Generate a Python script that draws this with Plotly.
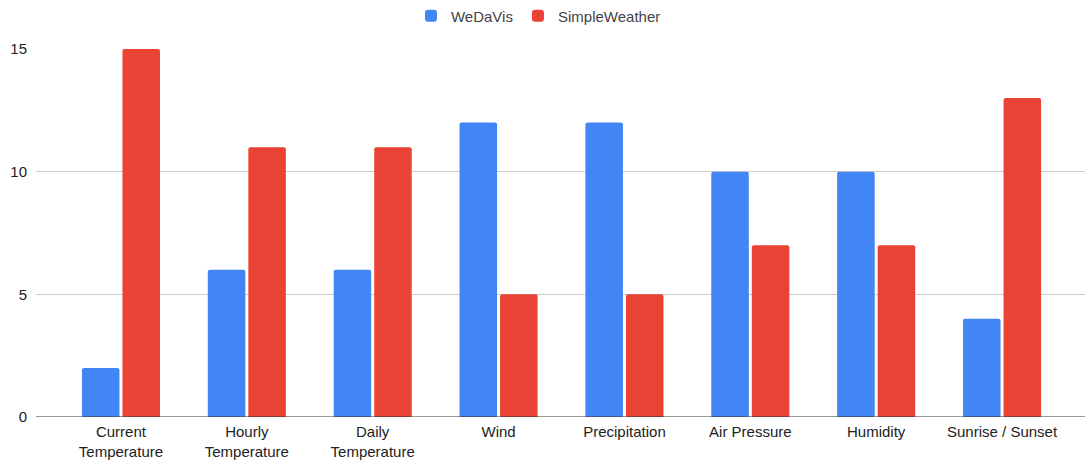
import plotly.graph_objects as go

categories = [
    "Current<br>Temperature",
    "Hourly<br>Temperature",
    "Daily<br>Temperature",
    "Wind",
    "Precipitation",
    "Air Pressure",
    "Humidity",
    "Sunrise / Sunset",
]
wedavis = [2, 6, 6, 12, 12, 10, 10, 4]
simpleweather = [15, 11, 11, 5, 5, 7, 7, 13]

BLUE = "#4285F4"
RED = "#EA4335"
FONT = "Liberation Sans, Arial, sans-serif"

fig = go.Figure()
fig.add_trace(go.Bar(name="WeDaVis", x=categories, y=wedavis,
                     marker=dict(color=BLUE, line=dict(width=0))))
fig.add_trace(go.Bar(name="SimpleWeather", x=categories, y=simpleweather,
                     marker=dict(color=RED, line=dict(width=0))))

fig.update_layout(
    width=1085,
    height=460,
    margin=dict(l=36, r=0, t=49, b=43),
    paper_bgcolor="white",
    plot_bgcolor="white",
    barmode="group",
    bargap=0.356,
    bargroupgap=0.074,
    barcornerradius=2,
    font=dict(family=FONT, size=15, color="#222222"),
    legend=dict(
        orientation="h",
        x=0.479, xanchor="center",
        y=0.965, yanchor="middle",
        yref="container",
        font=dict(size=15, color="#444444"),
        traceorder="normal",
    ),
    xaxis=dict(
        type="category",
        range=[-0.675, 7.659],
        automargin=False,
        showgrid=False,
        showline=False,
        zeroline=False,
        ticks="",
        ticklabelstandoff=4,
        tickfont=dict(size=15, color="#222222"),
    ),
    yaxis=dict(
        range=[0, 15],
        tickvals=[0, 5, 10, 15],
        automargin=False,
        showgrid=True,
        gridcolor="#CCCCCC",
        gridwidth=1,
        zeroline=False,
        showline=False,
        ticks="",
        ticklabelstandoff=8,
        tickfont=dict(size=15, color="#222222"),
    ),
)

# Baseline drawn darker than the gridlines
fig.add_shape(type="line", xref="paper", yref="y", x0=0, x1=1, y0=0, y1=0,
              line=dict(color="#333333", width=1), layer="above")

fig.write_html("out.html")
